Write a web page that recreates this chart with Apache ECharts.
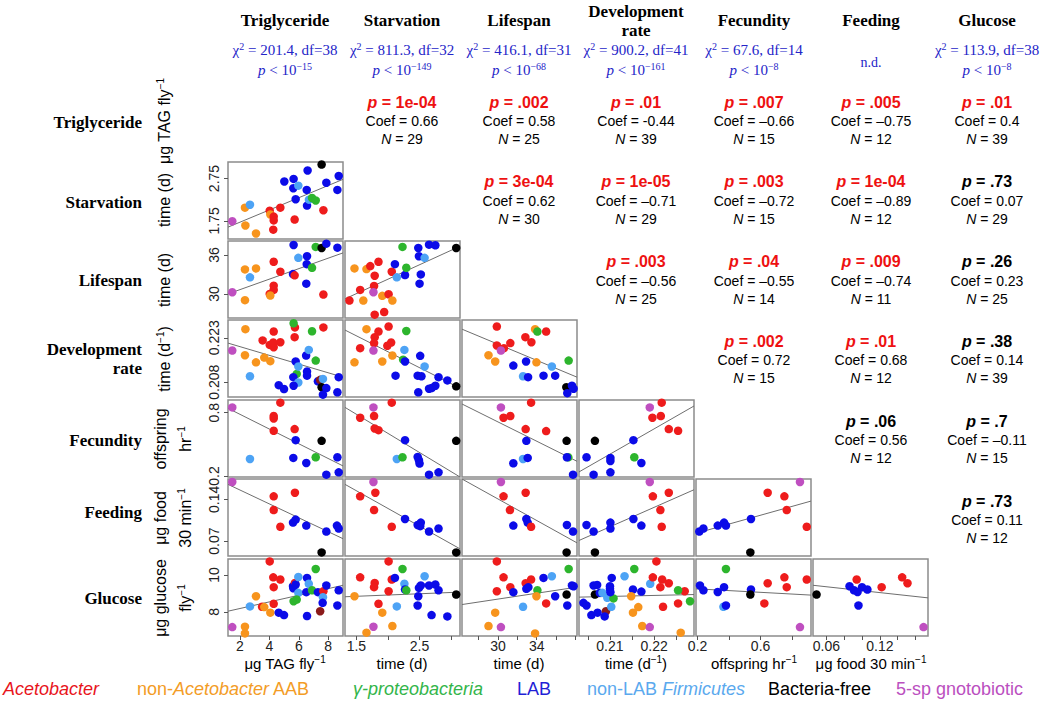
<!DOCTYPE html>
<html>
<head>
<meta charset="utf-8">
<script src="https://cdn.jsdelivr.net/npm/echarts@6/dist/echarts.min.js"></script>
<style>
  html, body { margin: 0; background: #fff; }
  #chart { width: 1041px; height: 711px; }
</style>
</head>
<body>
<div id="chart"></div>
<script>
// variables (row/column order of the matrix)
const variables = ['Triglyceride', 'Starvation', 'Lifespan', 'Development\nrate', 'Fecundity', 'Feeding', 'Glucose'];
const varRanges = [[1.2, 9.0], [1.32, 3.14], [26.3, 38.15], [0.203, 0.229], [0.19, 0.92], [0.045, 0.174], [6.7, 10.86]];

// tick marks / tick labels
const xTickValues = [[2, 4, 6, 8], [1.5, 2, 2.5, 3], [28, 30, 32, 34, 36, 38], [0.205, 0.21, 0.215, 0.22, 0.225], [0.2, 0.4, 0.6, 0.8], [0.06, 0.08, 0.1, 0.12, 0.14, 0.16]];
const xLabelValues = [[2, 4, 6, 8], [1.5, 2.5], [30, 34], [0.21, 0.22], [0.2, 0.6], [0.06, 0.12]];
const yLabelValues = [null, [1.75, 2.75], [30, 36], [0.208, 0.223], [0.2, 0.8], [0.07, 0.14], [8, 10]];

const yTitles = [['μg TAG fly{s|−1}'], ['time (d)'], ['time (d)'], ['time (d{s|−1})'], ['offspring', 'hr{s|−1}'], ['μg food', '30 min{s|−1}'], ['μg glucose', 'fly{s|−1}']];
const xTitles = ['μg TAG fly{s|−1}', 'time (d)', 'time (d)', 'time (d{s|−1})', 'offspring hr{s|−1}', 'μg food 30 min{s|−1}'];

// column header statistics
const chiValues = ['201.4', '811.3', '416.1', '900.2', '67.6', null, '113.9'];
const dfValues = [38, 32, 31, 41, 14, null, 38];
const pExponents = ['−15', '−149', '−68', '−161', '−8', null, '−8'];

// upper triangle statistics, row r holds columns r+1..6
const pValues = [
  ['1e-04', '.002', '.01', '.007', '.005', '.01'],
  ['3e-04', '1e-05', '.003', '1e-04', '.73'],
  ['.003', '.04', '.009', '.26'],
  ['.002', '.01', '.38'],
  ['.06', '.7'],
  ['.73']
];
const coefValues = [
  ['0.66', '0.58', '-0.44', '–0.66', '–0.75', '0.4'],
  ['0.62', '–0.71', '–0.72', '–0.89', '0.07'],
  ['–0.56', '–0.55', '–0.74', '0.23'],
  ['0.72', '0.68', '0.14'],
  ['0.56', '–0.11'],
  ['0.11']
];
const nValues = [[29, 25, 39, 15, 12, 39], [30, 29, 15, 12, 29], [25, 14, 11, 25], [15, 12, 39], [12, 15], [12]];

// groups: A Acetobacter, O non-Acetobacter AAB, G gamma-proteobacteria, L LAB,
// F non-LAB Firmicutes, B bacteria-free, S 5-sp gnotobiotic, M overlapping dark red
const groupColors = { A: '#EE1C1C', O: '#F7941D', G: '#2DB52D', L: '#0B0BE8', F: '#4DA3F5', B: '#000000', S: '#BF4FC0', M: '#8B1A1A' };
const legendLabels = ['{i|Acetobacter}', 'non-{i|Acetobacter} AAB', '{i|γ-proteobacteria}', 'LAB', 'non-LAB {i|Firmicutes}', 'Bacteria-free', '5-sp gnotobiotic'];
const legendColors = ['#E8141B', '#F39C26', '#33B54A', '#1F1FD6', '#5AA9EE', '#000000', '#BB4FBF'];

// scatter data [x, y, group]
const starvVsTrig = [[1.49,1.74,'S'],[2.35,2.06,'O'],[2.69,2.13,'F'],[2.38,1.64,'O'],[3.10,1.45,'O'],[4.03,1.99,'A'],[4.07,1.90,'O'],[4.30,1.85,'A'],[4.30,1.76,'A'],[4.27,1.54,'A'],[4.75,2.06,'A'],[5.72,1.78,'A'],[5.02,2.68,'L'],[5.65,2.74,'L'],[5.63,2.52,'L'],[5.97,2.58,'F'],[6.60,2.94,'L'],[6.54,2.48,'L'],[5.79,2.26,'L'],[6.56,2.11,'L'],[6.69,2.25,'F'],[6.90,2.29,'G'],[7.15,2.23,'G'],[7.67,2.00,'A'],[7.55,3.08,'B'],[7.87,2.65,'L'],[8.71,2.81,'L'],[8.62,2.48,'L']];
const lifeVsTrig = [[1.49,30.27,'S'],[2.35,33.78,'O'],[3.10,33.93,'O'],[2.69,32.56,'F'],[2.35,29.05,'O'],[4.30,34.95,'A'],[4.75,33.42,'A'],[4.30,31.28,'A'],[4.30,30.62,'A'],[4.03,30.01,'A'],[4.07,29.76,'O'],[5.61,33.06,'L'],[5.72,32.86,'A'],[5.65,37.54,'L'],[5.97,35.56,'F'],[6.56,35.81,'L'],[6.54,34.59,'L'],[6.51,31.59,'L'],[7.15,37.24,'G'],[6.90,34.03,'G'],[7.55,37.08,'B'],[7.87,37.74,'L'],[8.62,37.13,'L'],[7.67,29.91,'A']];
const lifeVsStarv = [[1.39,28.99,'A'],[1.56,30.62,'A'],[1.47,33.93,'O'],[1.66,33.83,'O'],[1.72,34.29,'A'],[1.85,34.95,'A'],[1.79,32.81,'A'],[1.78,31.23,'A'],[1.77,30.27,'S'],[1.61,28.99,'O'],[1.91,29.71,'O'],[2.01,29.96,'A'],[2.07,28.99,'O'],[1.79,26.81,'A'],[1.94,27.22,'A'],[2.06,33.42,'A'],[2.11,34.59,'L'],[2.14,32.56,'F'],[2.27,32.91,'L'],[2.29,34.03,'G'],[2.23,37.24,'G'],[2.48,37.08,'L'],[2.49,35.81,'L'],[2.58,35.56,'F'],[2.52,33.01,'L'],[2.50,31.59,'L'],[2.65,37.59,'L'],[2.75,37.49,'L'],[3.08,37.08,'B']];
const devVsTrig = [[2.38,0.2259,'O'],[1.49,0.2187,'S'],[2.35,0.2171,'O'],[3.10,0.2147,'O'],[3.66,0.2163,'O'],[4.07,0.2151,'O'],[2.69,0.2100,'F'],[3.55,0.2221,'A'],[4.30,0.2251,'A'],[4.03,0.2206,'A'],[4.30,0.2198,'A'],[4.27,0.2214,'A'],[4.75,0.2215,'A'],[5.72,0.2232,'A'],[5.74,0.2265,'A'],[7.67,0.2265,'A'],[5.65,0.2279,'G'],[6.90,0.2252,'G'],[7.15,0.2153,'G'],[5.86,0.2108,'G'],[6.50,0.2170,'L'],[6.68,0.2189,'F'],[5.79,0.2150,'L'],[5.97,0.2133,'F'],[5.63,0.2097,'L'],[5.97,0.2079,'F'],[6.56,0.2116,'L'],[6.56,0.2102,'L'],[4.64,0.2070,'L'],[5.00,0.2057,'L'],[5.65,0.2068,'L'],[7.30,0.2083,'L'],[7.45,0.2088,'M'],[7.64,0.2091,'F'],[7.55,0.2063,'B'],[7.87,0.2060,'L'],[7.64,0.2038,'L'],[8.62,0.2046,'L'],[8.71,0.2097,'L']];
const devVsStarv = [[1.56,0.2195,'A'],[1.47,0.2147,'O'],[1.66,0.2259,'O'],[1.85,0.2251,'A'],[1.79,0.2232,'A'],[1.78,0.2212,'A'],[2.01,0.2268,'A'],[1.99,0.2203,'A'],[2.05,0.2214,'A'],[1.77,0.2187,'S'],[1.91,0.2150,'O'],[2.07,0.2170,'O'],[2.29,0.2253,'G'],[2.26,0.2189,'F'],[2.24,0.2156,'G'],[2.27,0.2150,'L'],[2.58,0.2133,'F'],[2.51,0.2169,'L'],[2.12,0.2102,'L'],[2.47,0.2102,'L'],[2.53,0.2100,'L'],[2.80,0.2097,'L'],[2.94,0.2086,'L'],[2.75,0.2068,'L'],[2.69,0.2060,'L'],[2.65,0.2058,'L'],[2.48,0.2046,'L'],[3.08,0.2066,'B']];
const devVsLife = [[29.89,0.2268,'A'],[33.83,0.2259,'O'],[34.07,0.2251,'G'],[34.97,0.2251,'A'],[32.83,0.2232,'A'],[33.45,0.2215,'A'],[31.28,0.2212,'A'],[29.89,0.2204,'A'],[30.62,0.2195,'A'],[30.31,0.2187,'S'],[29.03,0.2171,'O'],[29.72,0.2150,'O'],[31.59,0.2136,'L'],[32.90,0.2150,'L'],[33.97,0.2147,'O'],[35.56,0.2133,'F'],[37.29,0.2153,'G'],[32.59,0.2100,'F'],[33.11,0.2097,'L'],[34.70,0.2102,'L'],[35.90,0.2102,'L'],[37.05,0.2063,'B'],[37.63,0.2068,'L'],[37.80,0.2058,'L'],[37.15,0.2043,'L']];
const fecVsTrig = [[1.49,0.850,'S'],[4.75,0.895,'A'],[4.30,0.768,'A'],[4.30,0.745,'A'],[4.30,0.628,'A'],[5.72,0.644,'A'],[5.79,0.539,'L'],[7.55,0.533,'B'],[2.69,0.361,'F'],[5.63,0.371,'L'],[7.15,0.377,'G'],[6.51,0.323,'L'],[8.62,0.377,'L'],[7.87,0.212,'L'],[8.71,0.234,'L']];
const fecVsStarv = [[1.56,0.752,'A'],[1.77,0.850,'S'],[1.78,0.768,'A'],[2.06,0.895,'A'],[1.79,0.650,'A'],[1.85,0.634,'A'],[2.27,0.539,'L'],[3.08,0.533,'B'],[2.14,0.361,'F'],[2.23,0.377,'G'],[2.47,0.380,'L'],[2.49,0.349,'L'],[2.50,0.317,'L'],[2.65,0.212,'L'],[2.80,0.234,'L']];
const fecVsLife = [[30.31,0.850,'S'],[30.58,0.752,'A'],[31.28,0.768,'A'],[33.42,0.895,'A'],[32.86,0.644,'A'],[34.97,0.625,'A'],[32.93,0.533,'L'],[37.08,0.533,'B'],[32.59,0.361,'F'],[33.07,0.371,'L'],[31.59,0.320,'L'],[37.25,0.377,'G'],[37.11,0.377,'L'],[37.74,0.212,'L']];
const fecVsDev = [[0.2190,0.850,'S'],[0.2217,0.895,'A'],[0.2196,0.752,'A'],[0.2215,0.768,'A'],[0.2233,0.644,'A'],[0.2254,0.628,'A'],[0.2066,0.533,'B'],[0.2153,0.539,'L'],[0.2047,0.377,'L'],[0.2101,0.371,'L'],[0.2101,0.342,'L'],[0.2155,0.377,'G'],[0.2171,0.323,'L'],[0.2063,0.212,'L'],[0.2101,0.234,'L']];
const feedVsTrig = [[1.49,0.169,'S'],[4.30,0.145,'A'],[5.74,0.151,'A'],[4.30,0.122,'A'],[4.75,0.094,'A'],[5.61,0.101,'L'],[5.79,0.106,'L'],[6.51,0.096,'L'],[7.87,0.086,'L'],[8.59,0.096,'L'],[8.71,0.091,'L'],[7.55,0.051,'B']];
const feedVsStarv = [[1.77,0.169,'S'],[1.56,0.145,'A'],[1.80,0.151,'A'],[1.78,0.122,'A'],[2.06,0.094,'A'],[2.27,0.107,'L'],[2.47,0.097,'L'],[2.52,0.101,'L'],[2.51,0.095,'L'],[2.65,0.086,'L'],[2.80,0.091,'L'],[3.08,0.051,'B']];
const feedVsLife = [[30.31,0.169,'S'],[30.58,0.145,'A'],[32.86,0.151,'A'],[31.24,0.122,'A'],[32.93,0.107,'L'],[33.07,0.101,'L'],[33.42,0.094,'A'],[31.59,0.096,'L'],[37.11,0.097,'L'],[37.74,0.086,'L'],[37.08,0.051,'B']];
const feedVsDev = [[0.2190,0.169,'S'],[0.2197,0.145,'A'],[0.2233,0.151,'A'],[0.2214,0.122,'A'],[0.2217,0.094,'A'],[0.2153,0.107,'L'],[0.2047,0.097,'L'],[0.2063,0.086,'L'],[0.2101,0.101,'L'],[0.2101,0.091,'L'],[0.2171,0.096,'L'],[0.2066,0.051,'B']];
const feedVsFec = [[0.850,0.169,'S'],[0.645,0.151,'A'],[0.751,0.145,'A'],[0.766,0.122,'A'],[0.893,0.094,'A'],[0.211,0.086,'L'],[0.237,0.091,'L'],[0.328,0.096,'L'],[0.368,0.101,'L'],[0.380,0.096,'L'],[0.539,0.107,'L'],[0.535,0.051,'B']];
const glucVsTrig = [[1.49,7.18,'S'],[2.35,7.20,'O'],[2.35,6.84,'O'],[2.69,8.30,'F'],[3.10,8.85,'O'],[3.51,8.28,'A'],[3.66,8.26,'O'],[4.07,7.96,'O'],[4.03,10.73,'A'],[4.27,9.87,'A'],[4.30,9.34,'A'],[4.30,8.44,'A'],[4.75,9.75,'A'],[4.64,7.96,'L'],[5.00,7.83,'L'],[5.61,9.39,'L'],[5.74,9.57,'A'],[5.63,9.28,'L'],[5.79,9.48,'L'],[5.97,9.89,'F'],[5.97,9.03,'F'],[5.65,8.58,'G'],[5.86,8.67,'G'],[6.56,9.84,'L'],[6.68,9.52,'F'],[6.51,9.07,'L'],[6.56,7.78,'L'],[6.90,9.17,'G'],[7.15,10.32,'G'],[7.30,9.07,'L'],[7.67,9.12,'A'],[7.64,8.80,'F'],[7.62,8.49,'L'],[7.45,8.04,'M'],[7.87,9.43,'L'],[8.71,9.17,'L'],[8.62,8.35,'L']];
const glucVsStarv = [[1.47,8.85,'O'],[1.77,7.20,'S'],[1.66,6.88,'O'],[1.56,9.87,'A'],[1.79,9.57,'A'],[1.78,9.34,'A'],[1.85,8.44,'A'],[1.91,7.96,'O'],[2.07,7.24,'O'],[2.01,10.73,'A'],[2.06,9.75,'A'],[2.01,9.12,'A'],[2.11,9.84,'L'],[2.26,9.52,'F'],[2.27,9.21,'L'],[2.23,10.32,'G'],[2.29,9.17,'G'],[2.14,8.30,'F'],[2.58,9.93,'F'],[2.48,8.85,'L'],[2.49,9.30,'L'],[2.52,9.43,'L'],[2.47,8.35,'L'],[2.65,9.43,'L'],[2.75,9.48,'L'],[2.80,9.17,'L'],[2.69,7.83,'L'],[2.94,7.76,'L'],[3.08,8.94,'B']];
const glucVsLife = [[29.89,10.73,'A'],[30.58,9.87,'A'],[29.89,9.12,'A'],[31.28,9.34,'A'],[31.59,9.07,'L'],[32.86,9.55,'A'],[33.42,9.75,'A'],[32.93,9.25,'L'],[33.14,9.34,'L'],[34.07,9.17,'G'],[33.97,8.85,'O'],[34.70,9.84,'L'],[35.56,9.93,'F'],[34.97,8.46,'A'],[32.59,8.28,'F'],[35.90,8.85,'L'],[37.08,8.94,'B'],[37.15,8.35,'L'],[37.63,9.43,'L'],[37.80,9.39,'L'],[37.29,10.32,'G'],[29.72,7.96,'O'],[29.03,7.24,'O'],[30.31,7.18,'S'],[33.83,6.84,'O']];
const glucVsDev = [[0.2040,8.49,'L'],[0.2047,8.35,'L'],[0.2058,7.83,'L'],[0.2072,7.96,'L'],[0.2091,8.04,'M'],[0.2088,7.76,'L'],[0.2103,8.28,'F'],[0.2066,8.94,'B'],[0.2063,9.43,'L'],[0.2071,9.46,'L'],[0.2077,9.03,'L'],[0.2083,9.03,'F'],[0.2094,8.76,'F'],[0.2108,8.73,'G'],[0.2100,9.39,'L'],[0.2100,9.25,'L'],[0.2101,9.07,'L'],[0.2104,9.84,'L'],[0.2133,9.93,'F'],[0.2155,10.32,'G'],[0.2152,9.21,'L'],[0.2171,9.10,'L'],[0.2148,8.85,'O'],[0.2191,9.52,'F'],[0.2197,9.87,'A'],[0.2205,10.73,'A'],[0.2214,9.34,'A'],[0.2218,9.75,'A'],[0.2233,9.55,'A'],[0.2220,8.28,'A'],[0.2254,8.46,'A'],[0.2269,9.12,'A'],[0.2254,9.17,'G'],[0.2281,8.58,'G'],[0.2164,8.26,'O'],[0.2152,7.96,'O'],[0.2173,7.24,'O'],[0.2190,7.18,'S'],[0.2260,6.88,'O']];
const glucVsFec = [[0.215,9.43,'L'],[0.237,9.17,'L'],[0.328,9.08,'L'],[0.368,9.34,'L'],[0.380,10.32,'G'],[0.364,8.28,'F'],[0.380,8.35,'L'],[0.539,9.21,'L'],[0.535,8.94,'B'],[0.624,8.46,'A'],[0.645,9.55,'A'],[0.751,9.87,'A'],[0.766,9.34,'A'],[0.893,9.75,'A'],[0.850,7.18,'S']];
const glucVsFeed = [[0.049,8.94,'B'],[0.086,9.39,'L'],[0.094,9.75,'A'],[0.091,9.17,'L'],[0.095,9.08,'L'],[0.100,9.34,'L'],[0.106,9.21,'L'],[0.096,8.35,'L'],[0.122,9.34,'A'],[0.145,9.87,'A'],[0.151,9.55,'A'],[0.169,7.18,'S']];

// fitted line: y at the left and right edge of each panel
const fitLines = [
  [1.60, 2.73],
  [30.01, 36.32], [29.25, 37.34],
  [0.2212, 0.2097], [0.2256, 0.2060], [0.2259, 0.2097],
  [0.841, 0.295], [0.850, 0.19], [0.882, 0.339], [0.238, 0.863],
  [0.165, 0.074], [0.165, 0.057], [0.174, 0.067], [0.071, 0.156], [0.083, 0.137],
  [8.04, 9.44], [8.82, 9.07], [8.40, 9.34], [8.80, 8.94], [9.25, 8.91], [9.44, 8.76]
];

const panelPoints = [
  starvVsTrig,
  lifeVsTrig, lifeVsStarv,
  devVsTrig, devVsStarv, devVsLife,
  fecVsTrig, fecVsStarv, fecVsLife, fecVsDev,
  feedVsTrig, feedVsStarv, feedVsLife, feedVsDev, feedVsFec,
  glucVsTrig, glucVsStarv, glucVsLife, glucVsDev, glucVsFec, glucVsFeed
];

// layout
const colLeft = [228, 345, 462, 579, 696, 813];
const rowTop = [83, 162, 241, 320, 400, 479, 559];
const PW = 115, PH = 77;
const colCenter = [285, 402, 519, 636, 754, 871, 987];
const rowLabelY = [122, 202, 280, 359, 440, 512, 598];
const rowMid = [121, 200, 280, 359, 439, 518, 598];

const SANS = '"Liberation Sans", Arial, sans-serif';
const SERIF = '"Liberation Serif", "Times New Roman", serif';

// panel list in row order
const panels = [];
for (let r = 1; r <= 6; r++) {
  for (let c = 0; c < r; c++) panels.push({ row: r, col: c });
}

const grid = [], xAxis = [], yAxis = [], series = [];
panels.forEach((p, i) => {
  const xr = varRanges[p.col], yr = varRanges[p.row];
  const bottomRow = p.row === 6, leftCol = p.col === 0;
  grid.push({
    left: colLeft[p.col], top: rowTop[p.row], width: PW, height: PH,
    show: true, borderColor: '#8c8c8c', borderWidth: 1.5, backgroundColor: '#fff'
  });
  xAxis.push({
    type: 'value', gridIndex: i, min: xr[0], max: xr[1],
    splitLine: { show: false }, axisLine: { show: false },
    axisTick: { show: bottomRow, customValues: xTickValues[p.col], length: 4, lineStyle: { color: '#555' } },
    axisLabel: { show: bottomRow, customValues: xLabelValues[p.col], margin: 3, fontSize: 14, fontFamily: SANS, color: '#222' }
  });
  yAxis.push({
    type: 'value', gridIndex: i, min: yr[0], max: yr[1],
    splitLine: { show: false }, axisLine: { show: false },
    axisTick: { show: leftCol, customValues: yLabelValues[p.row], length: 4, lineStyle: { color: '#555' } },
    axisLabel: { show: leftCol, customValues: yLabelValues[p.row], rotate: 90, margin: 7, fontSize: 14, fontFamily: SANS, color: '#222' }
  });
  const fit = fitLines[i];
  series.push({
    type: 'line', xAxisIndex: i, yAxisIndex: i, silent: true, clip: true, z: 1,
    data: [[xr[0], fit[0]], [xr[1], fit[1]]],
    symbol: 'none', lineStyle: { color: '#6e6e6e', width: 1 }
  });
  series.push({
    type: 'scatter', xAxisIndex: i, yAxisIndex: i, silent: true, z: 2,
    data: panelPoints[i], symbolSize: 8.5,
    itemStyle: { color: d => groupColors[d.data[2]], opacity: 1 }
  });
});

// text helper
function txt(x, y, text, o) {
  o = o || {};
  return {
    type: 'text', x: x, y: y, rotation: o.rotation || 0, silent: true, z: 10,
    style: {
      text: text, fill: o.fill || '#000',
      fontSize: o.fontSize || 14, fontFamily: o.fontFamily || SANS,
      fontWeight: o.fontWeight || 'normal', fontStyle: o.fontStyle || 'normal',
      align: o.align || 'center', verticalAlign: 'middle',
      textAlign: o.align || 'center', textVerticalAlign: 'middle',
      lineHeight: o.lineHeight, rich: o.rich
    }
  };
}
const sup = (size, base) => ({ fontSize: size, verticalAlign: 'top', lineHeight: base, fontFamily: SANS });

const graphic = [];

// column headers
variables.forEach((v, c) => {
  const two = v.indexOf('\n') >= 0;
  graphic.push(txt(colCenter[c], two ? 21 : 20, v, { fontFamily: SERIF, fontWeight: 'bold', fontSize: 17, lineHeight: 19 }));
  const blue = '#2424C8';
  const serifRich = {
    t: { fontFamily: SERIF, fontSize: 15, fill: blue, lineHeight: 18 },
    i: { fontFamily: SERIF, fontSize: 15, fontStyle: 'italic', fill: blue, lineHeight: 18 },
    s: { fontFamily: SERIF, fontSize: 10, fill: blue, verticalAlign: 'top', lineHeight: 18 }
  };
  if (chiValues[c] === null) {
    graphic.push(txt(colCenter[c], 62, 'n.d.', { fontFamily: SERIF, fontSize: 14, fill: blue }));
  } else {
    graphic.push(txt(colCenter[c], 50, '{t|χ}{s|2}{t| = ' + chiValues[c] + ', df=' + dfValues[c] + '}', { rich: serifRich, fill: blue }));
    graphic.push(txt(colCenter[c], 70, '{i|p}{t| < 10}{s|' + pExponents[c] + '}', { rich: serifRich, fill: blue }));
  }
});

// row labels
variables.forEach((v, r) => {
  graphic.push(txt(142, rowLabelY[r], v, { fontFamily: SERIF, fontWeight: 'bold', fontSize: 17, align: 'right', lineHeight: 19 }));
});

// y axis titles (rotated)
yTitles.forEach((lines, r) => {
  const xs = lines.length === 1 ? [164] : [160, 185];
  lines.forEach((l, k) => {
    graphic.push(txt(xs[k], rowMid[r], l, {
      rotation: Math.PI / 2, fontSize: 16,
      rich: { s: sup(10, 18) }
    }));
  });
});

// x axis titles
xTitles.forEach((t, c) => {
  graphic.push(txt(colCenter[c], 663, t, { fontSize: 15, rich: { s: sup(10, 17) } }));
});

// upper triangle statistics
pValues.forEach((rowVals, r) => {
  rowVals.forEach((pv, k) => {
    const c = r + 1 + k;
    const y0 = 102 + 79.8 * r;
    const col = parseFloat(pv) < 0.05 ? '#EE1111' : '#000';
    graphic.push(txt(colCenter[c], y0, '{i|p}{b| = ' + pv + '}', {
      rich: {
        i: { fontSize: 16, fontWeight: 'bold', fontStyle: 'italic', fontFamily: SANS, fill: col },
        b: { fontSize: 16, fontWeight: 'bold', fontFamily: SANS, fill: col }
      }
    }));
    graphic.push(txt(colCenter[c], y0 + 19, 'Coef = ' + coefValues[r][k], { fontSize: 14 }));
    graphic.push(txt(colCenter[c], y0 + 37, '{i|N}{t| = ' + nValues[r][k] + '}', {
      rich: {
        i: { fontSize: 14, fontStyle: 'italic', fontFamily: SANS },
        t: { fontSize: 14, fontFamily: SANS }
      }
    }));
  });
});

// legend (coloured labels only)
const legendLeft = [3, 137, 353, 517, 587, 768, 896];
legendLabels.forEach((lab, k) => {
  graphic.push(txt(legendLeft[k], 689, lab, {
    align: 'left', fontSize: 18, fill: legendColors[k],
    rich: {
      i: { fontSize: 18, fontStyle: 'italic', fontFamily: SANS, fill: legendColors[k] }
    }
  }));
});

const chart = echarts.init(document.getElementById('chart'), null, { renderer: 'svg' });
chart.setOption({
  animation: false,
  backgroundColor: '#fff',
  grid: grid,
  xAxis: xAxis,
  yAxis: yAxis,
  series: series,
  graphic: graphic
});
</script>
</body>
</html>
